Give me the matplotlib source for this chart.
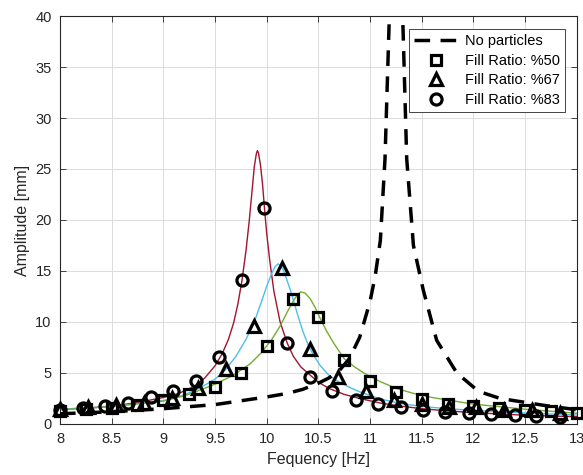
import matplotlib
matplotlib.use('Agg')
import matplotlib.pyplot as plt

plt.rcParams['font.family'] = ['Liberation Sans', 'DejaVu Sans']

# measured points (markers)
f50 = [8.0, 8.25, 8.5, 8.75, 9.0, 9.25, 9.5, 9.75, 10.0, 10.25, 10.5,
       10.75, 11.0, 11.25, 11.5, 11.75, 12.0, 12.25, 12.5, 12.75, 13.0]
a50 = [1.3, 1.45, 1.55, 1.9, 2.35, 2.94, 3.66, 5.03, 7.65, 12.25, 10.52,
       6.27, 4.25, 3.17, 2.45, 1.96, 1.8, 1.53, 1.37, 1.31, 1.05]

f67 = [8.0, 8.27, 8.54, 8.81, 9.08, 9.34, 9.61, 9.88, 10.15, 10.42,
       10.69, 10.96, 11.23, 11.5, 11.76, 12.03, 12.3, 12.57, 12.84]
a67 = [1.5, 1.7, 1.9, 2.1, 2.5, 3.5, 5.4, 9.6, 15.3, 7.4,
       4.6, 3.2, 2.4, 2.0, 1.7, 1.7, 1.4, 1.35, 1.05]

f83 = [8.0, 8.226, 8.435, 8.66, 8.884, 9.094, 9.316, 9.539, 9.758, 9.977,
       10.2, 10.42, 10.635, 10.865, 11.075, 11.3, 11.516, 11.73, 11.96,
       12.17, 12.4, 12.61, 12.84]
a83 = [1.4, 1.6, 1.8, 2.1, 2.6, 3.2, 4.2, 6.6, 14.1, 21.2,
       7.9, 4.6, 3.2, 2.4, 2.0, 1.65, 1.4, 1.2, 1.1,
       0.95, 0.85, 0.75, 0.72]

# fitted curves
fit50_f = [8.0, 8.5, 9.0, 9.2, 9.35, 9.5, 9.68, 9.84, 9.95, 10.05, 10.13,
           10.2, 10.26, 10.3, 10.33, 10.37, 10.42, 10.47, 10.52, 10.58,
           10.65, 10.75, 10.85, 10.94, 11.1, 11.25, 11.42, 11.6, 11.75,
           12.0, 12.25, 12.5, 12.75, 13.0]
fit50_a = [1.4, 1.7, 2.25, 2.75, 3.3, 3.9, 4.8, 5.9, 7.0, 8.3, 9.6,
           11.0, 12.1, 12.7, 12.95, 12.85, 12.3, 11.4, 10.3, 9.1,
           7.9, 6.4, 5.6, 5.0, 4.15, 3.5, 3.0, 2.6, 2.35,
           1.95, 1.7, 1.45, 1.25, 1.05]

fit67_f = [8.0, 8.5, 9.0, 9.2, 9.35, 9.5, 9.6, 9.7, 9.8, 9.88, 9.95, 10.0,
           10.05, 10.08, 10.11, 10.14, 10.17, 10.2, 10.23, 10.26, 10.3,
           10.35, 10.4, 10.45, 10.52, 10.6, 10.7, 10.8, 10.9, 11.1, 11.3,
           11.5, 11.75, 12.0, 12.5, 13.0]
fit67_a = [1.45, 1.7, 2.3, 2.85, 3.5, 4.4, 5.3, 6.6, 8.3, 10.0, 12.0, 13.5,
           14.8, 15.4, 15.7, 15.5, 14.9, 14.0, 13.1, 12.1, 10.7,
           9.1, 7.8, 6.8, 5.7, 4.8, 4.1, 3.6, 3.15, 2.45, 2.0,
           1.72, 1.5, 1.33, 1.08, 0.88]

fit83_f = [8.0, 8.25, 8.5, 8.75, 9.0, 9.15, 9.3, 9.4, 9.5, 9.57, 9.63, 9.68,
           9.72, 9.76, 9.8, 9.83, 9.86, 9.88, 9.9, 9.91, 9.92, 9.94, 9.96,
           9.98, 10.0, 10.03, 10.07, 10.13, 10.2, 10.26, 10.33, 10.42, 10.5,
           10.6, 10.75, 10.9, 11.1, 11.3, 11.5, 11.75, 12.0, 12.25, 12.5,
           12.75, 13.0]
fit83_a = [1.45, 1.55, 1.75, 2.1, 2.6, 3.0, 3.7, 4.5, 5.7, 6.9, 8.3, 9.9,
           11.7, 14.0, 17.0, 19.8, 23.0, 25.2, 26.5, 26.8, 26.6, 25.4, 23.5,
           21.0, 18.7, 16.0, 13.0, 10.0, 7.9, 6.6, 5.6, 4.8, 4.1,
           3.5, 2.9, 2.5, 2.05, 1.75, 1.5, 1.28, 1.12, 0.98, 0.86,
           0.78, 0.72]

# no particles
f0 = [8.0, 8.5, 9.0, 9.5, 10.0, 10.2, 10.35, 10.5, 10.6, 10.7, 10.8, 10.9,
      11.0, 11.05, 11.1, 11.145, 11.187, 11.25, 11.316, 11.355, 11.42,
      11.516, 11.645, 11.84, 12.05, 12.26, 12.45, 12.7, 13.0]
a0 = [1.0, 1.2, 1.5, 1.9, 2.65, 3.0, 3.4, 4.0, 4.5, 5.2, 6.4, 8.5,
      12.0, 14.5, 18.0, 26.0, 40.0, 60.0, 40.0, 26.0, 17.5,
      13.1, 8.2, 5.0, 3.2, 2.5, 2.2, 1.8, 1.4]

xticks = [8, 8.5, 9, 9.5, 10, 10.5, 11, 11.5, 12, 12.5, 13]
xticklabels = ['8', '8.5', '9', '9.5', '10', '10.5', '11', '11.5', '12', '12.5', '13']
yticks = [0, 5, 10, 15, 20, 25, 30, 35, 40]

AX_COLOR = '#262626'

fig = plt.figure(figsize=(5.83, 4.75), dpi=100)
ax = fig.add_axes([0.1029, 0.1074, 0.8863, 0.8589])

ax.plot(f0, a0, color='black', linestyle=(0, (4.5, 3)), linewidth=2.5,
        label='No particles', zorder=3)

ax.plot(fit83_f, fit83_a, color='#A2142F', linewidth=1.0, zorder=2)
ax.plot(fit67_f, fit67_a, color='#4DBEEE', linewidth=1.0, zorder=2)
ax.plot(fit50_f, fit50_a, color='#77AC30', linewidth=1.0, zorder=2)

mk = dict(linestyle='none', markerfacecolor='none', markeredgecolor='black',
          markeredgewidth=2.3, zorder=4, clip_on=False)
ax.plot(f50, a50, marker='s', markersize=6.5, label='Fill Ratio: %50', **mk)
ax.plot(f67, a67, marker='^', markersize=8.5, label='Fill Ratio: %67', **mk)
ax.plot(f83, a83, marker='o', markersize=8, label='Fill Ratio: %83', **mk)

ax.set_xlim(8, 13)
ax.set_ylim(0, 40)
ax.set_xticks(xticks)
ax.set_xticklabels(xticklabels)
ax.set_yticks(yticks)
ax.tick_params(direction='in', top=True, right=True, length=4,
               width=0.6, colors=AX_COLOR, labelsize=10.5, pad=6)
for s in ax.spines.values():
    s.set_color(AX_COLOR)
    s.set_linewidth(0.8)
ax.grid(True, color='#dcdcdc', linewidth=0.7)
ax.set_axisbelow(True)

ax.set_xlabel('Fequency [Hz]', fontsize=11.5, color=AX_COLOR)
ax.set_ylabel('Amplitude [mm]', fontsize=11.5, color=AX_COLOR)

leg = ax.legend(loc='upper right', bbox_to_anchor=(0.977, 0.968),
                fontsize=10.5, fancybox=False, framealpha=1,
                edgecolor=AX_COLOR, handlelength=3.0, borderpad=0.35,
                labelspacing=0.38, handletextpad=0.5, borderaxespad=0)
leg.get_frame().set_linewidth(0.6)

fig.savefig('out.png', dpi=100)
